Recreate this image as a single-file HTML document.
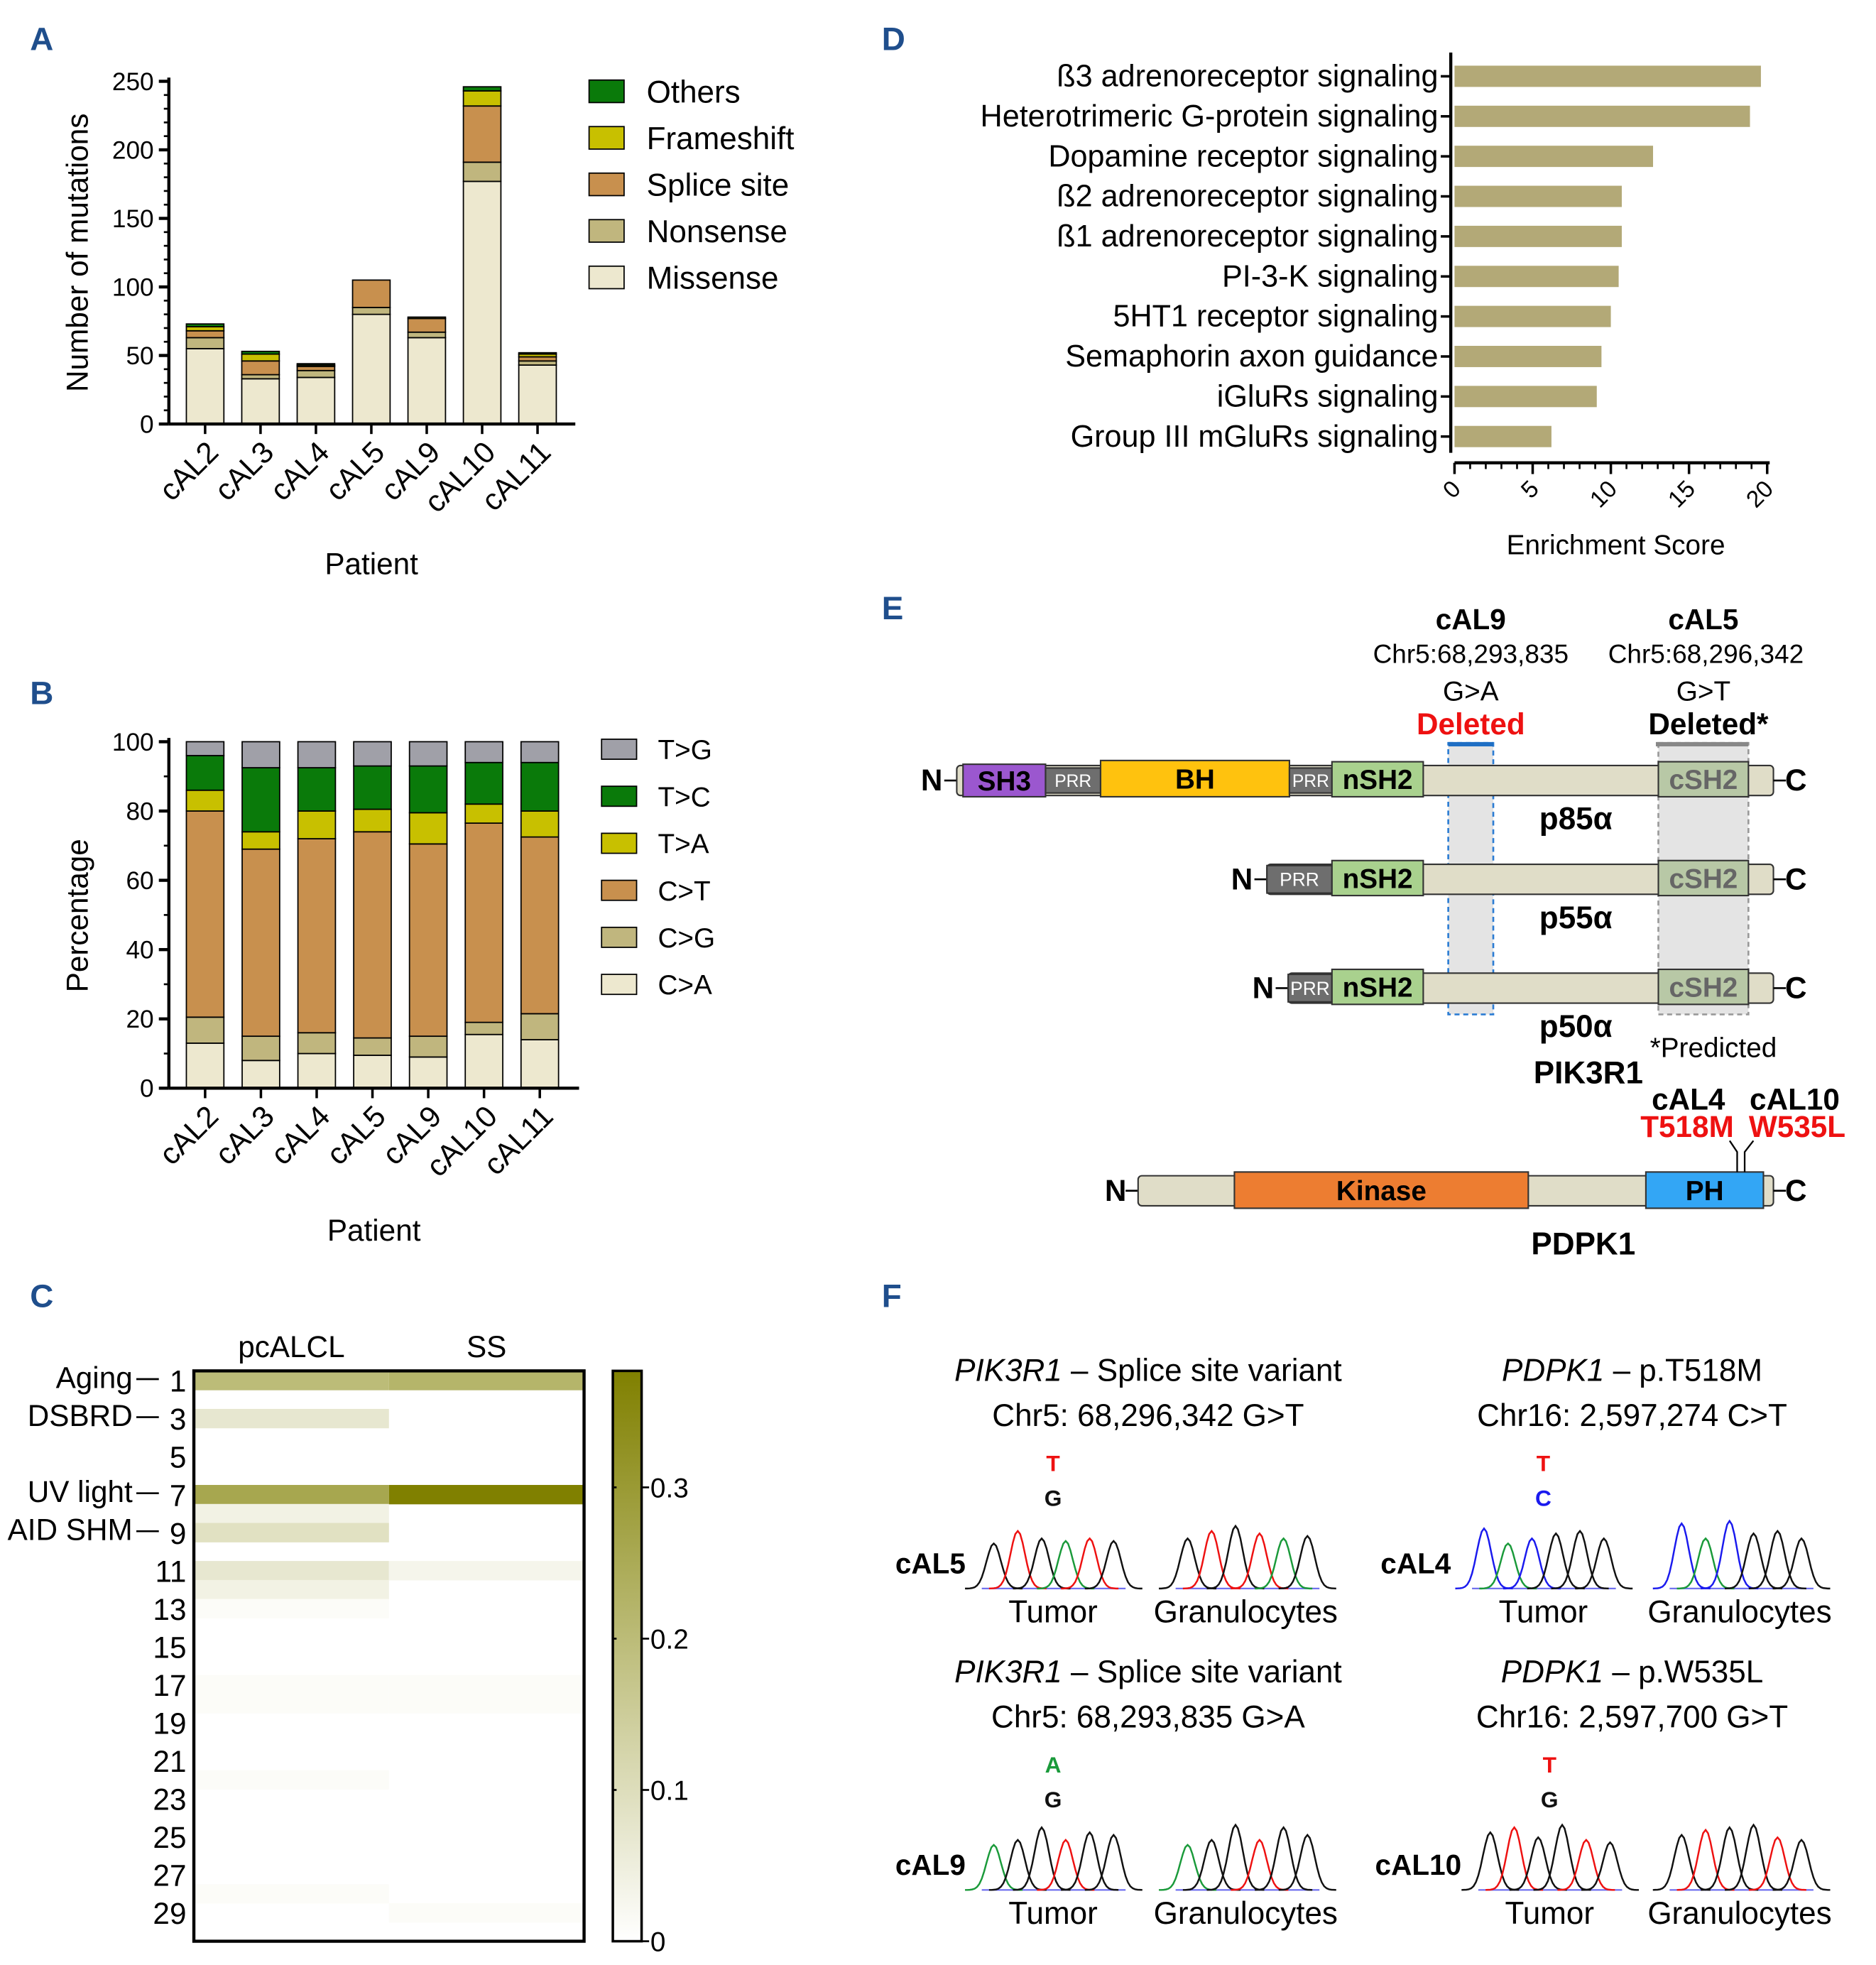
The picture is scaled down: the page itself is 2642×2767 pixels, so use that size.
<!DOCTYPE html>
<html><head><meta charset="utf-8"><style>
html,body{margin:0;padding:0;background:#fff}
svg{display:block}
text{font-family:"Liberation Sans",sans-serif}
.cal{font-family:"Liberation Sans",sans-serif}
.nar{font-family:"Liberation Sans Narrow","Liberation Sans",sans-serif}
</style></head><body>
<svg id="fig" width="2642" height="2767" viewBox="0 0 1500 1571" xmlns="http://www.w3.org/2000/svg">
<g id="gA"></g>
<g id="gB"></g>
<g id="gC"></g>
<g id="gD"></g>
<g id="gE"></g>
<g id="gF"></g>
</svg>
<script>
// ---- Panel A data
const patients = ["cAL2","cAL3","cAL4","cAL5","cAL9","cAL10","cAL11"];
const mutTypes = ["Missense","Nonsense","Splice site","Frameshift","Others"];
const missense = [55,33,34,80,63,177,43];
const nonsense = [8,3,5,5,4,14,3];
const splice = [5,10,3,20,10,41,3];
const frameshift = [3,5,1,0,1,11,2];
const others = [2,2,1,0,0,3,1];
const yTicksA = [0,50,100,150,200,250];
// ---- Panel B data
const subTypes = ["C>A","C>G","C>T","T>A","T>C","T>G"];
const pCA = [13,8,10,9.5,9,15.5,14];
const pCG = [7.5,7,6,5,6,3.5,7.5];
const pCT = [59.5,54,56,59.5,55.5,57.5,51];
const pTA = [6,5,8,6.5,9,5.5,7.5];
const pTC = [10,18.5,12.5,12.5,13.5,12,14];
const pTG = [4,7.5,7.5,7,7,6,6];
const yTicksB = [0,20,40,60,80,100];
// ---- Panel C data
const sigGroups = ["pcALCL","SS"];
const sigPc = [0.20,0,0.07,0,0,0,0.26,0.04,0.09,0,0.07,0.04,0.01,0,0,0,0.01,0.01,0,0,0,0.01,0,0,0,0,0,0.01,0,0];
const sigSS = [0.22,0,0,0,0,0,0.377,0,0,0,0.03,0,0,0,0,0,0.01,0.01,0,0,0,0,0,0,0,0,0,0,0.01,0];
const cTicks = [0,0.1,0.2,0.3];
// ---- Panel D data
const pathways = ["ß3 adrenoreceptor signaling","Heterotrimeric G-protein signaling","Dopamine receptor signaling","ß2 adrenoreceptor signaling","ß1 adrenoreceptor signaling","PI-3-K signaling","5HT1 receptor signaling","Semaphorin axon guidance","iGluRs signaling","Group III mGluRs signaling"];
const enrich = [19.6,18.9,12.7,10.7,10.7,10.5,10.0,9.4,9.1,6.2];
const xTicksD = [0,5,10,15,20];

const NS="http://www.w3.org/2000/svg";
function el(tag,attrs,parent,txt){const e=document.createElementNS(NS,tag);for(const k in attrs)e.setAttribute(k,attrs[k]);if(txt!==undefined)e.textContent=txt;parent.appendChild(e);return e;}

function letter(g,t,x,y){const e=el('text',{x:x,y:y,'font-size':26,'font-weight':'bold',fill:'#1f4e8c'},g,t);

}

// ===== Panel A
(function(){
const g=document.getElementById('gA');letter(g,'A',24,40);
const x0=135,x1=460,y0=339,yTop=65,max=250;
const ys=v=>y0-(v/max)*(y0-yTop);
const xs=i=>164+i*44.3;
const cols=['#ede8cf','#c0b67e','#c8904e','#c8c000','#0a7a0a'];
const series=[missense,nonsense,splice,frameshift,others];
patients.forEach((p,i)=>{let acc=0;series.forEach((s,k)=>{const v=s[i];if(v<=0)return;const r=el('rect',{x:xs(i)-15,y:ys(acc+v),width:30,height:ys(acc)-ys(acc+v),fill:cols[k],stroke:'#000','stroke-width':1},g);

acc+=v;});
const t=el('text',{x:0,y:0,'font-size':24,'text-anchor':'end',transform:`translate(${xs(i)+12},${y0+24}) rotate(-45)`},g,p);

});
el('line',{x1:x0,y1:yTop-3,x2:x0,y2:y0,stroke:'#000','stroke-width':2.5},g);
el('line',{x1:x0,y1:y0,x2:x1,y2:y0,stroke:'#000','stroke-width':2.5},g);
yTicksA.forEach(v=>{el('line',{x1:x0-8,y1:ys(v),x2:x0,y2:ys(v),stroke:'#000','stroke-width':2.5},g);
for(let m=1;m<5&&v<max;m++)el('line',{x1:x0-4,y1:ys(v+m*10),x2:x0,y2:ys(v+m*10),stroke:'#000','stroke-width':1.5},g);
const t=el('text',{x:x0-12,y:ys(v)+7,'font-size':20,'text-anchor':'end'},g,v);

});
patients.forEach((p,i)=>el('line',{x1:xs(i),y1:y0,x2:xs(i),y2:y0+8,stroke:'#000','stroke-width':2},g));
const yt=el('text',{x:0,y:0,'font-size':24,'text-anchor':'middle',transform:'translate(70,202) rotate(-90)'},g,'Number of mutations');


const xt=el('text',{x:297,y:459,'font-size':24,'text-anchor':'middle'},g,'Patient');


const ord=[4,3,2,1,0];
ord.forEach((k,j)=>{const y=73+j*37.2;el('rect',{x:471,y:y-9,width:28,height:18,fill:cols[k],stroke:'#000','stroke-width':1},g);
const t=el('text',{x:517,y:y+9,'font-size':25},g,mutTypes[k]);

});
})();

// ===== Panel B
(function(){
const g=document.getElementById('gB');letter(g,'B',24,563);
const x0=135,x1=463,y0=870,yTop=593;
const ys=v=>y0-(v/100)*(y0-yTop);
const xs=i=>164+i*44.6;
const cols=['#ede8cf','#c0b67e','#c8904e','#c8c000','#0a7a0a','#a0a0a8'];
const series=[pCA,pCG,pCT,pTA,pTC,pTG];
patients.forEach((p,i)=>{let acc=0;series.forEach((s,k)=>{const v=s[i];const r=el('rect',{x:xs(i)-15,y:ys(acc+v),width:30,height:ys(acc)-ys(acc+v),fill:cols[k],stroke:'#000','stroke-width':1},g);

acc+=v;});
const t=el('text',{x:0,y:0,'font-size':24,'text-anchor':'end',transform:`translate(${xs(i)+12},${y0+24}) rotate(-45)`},g,p);

});
el('line',{x1:x0,y1:yTop-3,x2:x0,y2:y0,stroke:'#000','stroke-width':2.5},g);
el('line',{x1:x0,y1:y0,x2:x1,y2:y0,stroke:'#000','stroke-width':2.5},g);
yTicksB.forEach(v=>{el('line',{x1:x0-8,y1:ys(v),x2:x0,y2:ys(v),stroke:'#000','stroke-width':2.5},g);
if(v<100)el('line',{x1:x0-4,y1:ys(v+10),x2:x0,y2:ys(v+10),stroke:'#000','stroke-width':1.5},g);
const t=el('text',{x:x0-12,y:ys(v)+7,'font-size':20,'text-anchor':'end'},g,v);

});
patients.forEach((p,i)=>el('line',{x1:xs(i),y1:y0,x2:xs(i),y2:y0+8,stroke:'#000','stroke-width':2},g));
const yt=el('text',{x:0,y:0,'font-size':24,'text-anchor':'middle',transform:'translate(70,732) rotate(-90)'},g,'Percentage');


const xt=el('text',{x:299,y:992,'font-size':24,'text-anchor':'middle'},g,'Patient');


[5,4,3,2,1,0].forEach((k,j)=>{const y=599+j*37.6;el('rect',{x:481,y:y-8,width:28,height:16,fill:cols[k],stroke:'#000','stroke-width':1},g);
const t=el('text',{x:526,y:y+8,'font-size':22},g,subTypes[k]);

});
})();

// ===== Panel C
(function(){
const g=document.getElementById('gC');letter(g,'C',24,1045);
const x0=155,x1=467,y0=1096,y1=1552,vmax=0.377;
const rh=(y1-y0)/30,cw=(x1-x0)/2;
function col(v){const t=Math.min(1,v/vmax);const r=Math.round(255+(128-255)*t),gg=Math.round(255+(128-255)*t),b=Math.round(255+(0-255)*t);return `rgb(${r},${gg},${b})`;}
[sigPc,sigSS].forEach((arr,c)=>arr.forEach((v,i)=>{if(v<=0)return;const r=el('rect',{x:x0+c*cw,y:y0+i*rh,width:cw,height:rh+0.3,fill:col(v)},g);

}));
el('rect',{x:x0,y:y0,width:x1-x0,height:y1-y0,fill:'none',stroke:'#000','stroke-width':2.5},g);
sigGroups.forEach((s,c)=>{const t=el('text',{x:x0+c*cw+cw/2,y:1085,'font-size':24,'text-anchor':'middle'},g,s);

});
const ann={1:'Aging',3:'DSBRD',7:'UV light',9:'AID SHM'};
for(let n=1;n<=29;n+=2){const y=y0+(n-0.5)*rh+9;const t=el('text',{x:149,y:y,'font-size':24,'text-anchor':'end'},g,n);


if(ann[n]){const lab=ann[n];const a=el('text',{x:106,y:y-3,'font-size':24,'text-anchor':'end'},g,lab);


el('line',{x1:109,y1:y-10,x2:127,y2:y-10,stroke:'#000','stroke-width':1.5},g);}}
const defs=el('defs',{},g);const lg=el('linearGradient',{id:'cb',x1:0,y1:1,x2:0,y2:0},defs);
el('stop',{offset:0,'stop-color':'#ffffff'},lg);el('stop',{offset:1,'stop-color':'#808000'},lg);
const cb=el('rect',{x:490,y:y0,width:23,height:y1-y0,fill:'url(#cb)',stroke:'#000','stroke-width':2},g);


cTicks.forEach(v=>{const y=y1-(v/vmax)*(y1-y0);el('line',{x1:513,y1:y,x2:519,y2:y,stroke:'#000','stroke-width':1.5},g);
el('line',{x1:490,y1:y,x2:493,y2:y,stroke:'#000','stroke-width':1.5},g);
const t=el('text',{x:520,y:y+8,'font-size':22},g,v);

});
})();

// ===== Panel D
(function(){
const g=document.getElementById('gD');letter(g,'D',705,40);
const xa=1163,xb=1413,max=20;const xs=v=>xa+(v/max)*(xb-xa);
pathways.forEach((p,i)=>{const y=61+i*32;const r=el('rect',{x:xa,y:y-8.5,width:xs(enrich[i])-xa,height:17,fill:'#b3a977'},g);


el('line',{x1:1152,y1:y,x2:1160,y2:y,stroke:'#000','stroke-width':2},g);
const t=el('text',{x:1150,y:y+8,'font-size':24.5,'text-anchor':'end'},g,p);

});
el('line',{x1:1160,y1:42,x2:1160,y2:362,stroke:'#000','stroke-width':2.5},g);
el('line',{x1:xa,y1:370,x2:xb+2,y2:370,stroke:'#000','stroke-width':2.5},g);
for(let v=0;v<=20;v++)el('line',{x1:xs(v),y1:370,x2:xs(v),y2:v%5==0?379:375,stroke:'#000','stroke-width':v%5==0?2:1.5},g);
xTicksD.forEach(v=>{const t=el('text',{x:0,y:0,'font-size':19,'text-anchor':'end',transform:`translate(${xs(v)+6},${392}) rotate(-45)`},g,v);

});
const xt=el('text',{x:1292,y:443,'font-size':22,'text-anchor':'middle'},g,'Enrichment Score');


})();

// ===== Panel E
(function(){
const g=document.getElementById('gE');letter(g,'E',705,495);
function T(t,x,y,fs,opt,name){const a=Object.assign({x:x,y:y,'font-size':fs,'text-anchor':'middle','class':'nar'},opt||{});const e=el('text',a,g,t);

return e;}
function box(x,w,y,h,fill,label,tc,fs,name){const r=el('rect',{x:x,y:y,width:w,height:h,fill:fill,stroke:'#333','stroke-width':1.2},g);


if(label)T(label,x+w/2,y+h/2+(fs||22)*0.36,fs||22,{fill:tc||'#000','font-weight':fs&&fs<18?'normal':'bold'},name+'-label');}
const d1=el('rect',{x:1158,y:594,width:36,height:217,fill:'#e4e4e4',stroke:'#2b7cd3','stroke-width':1.5,'stroke-dasharray':'4,3'},g);


const d2=el('rect',{x:1326,y:594,width:72,height:217,fill:'#e4e4e4',stroke:'#999','stroke-width':1.5,'stroke-dasharray':'4,3'},g);


el('line',{x1:1158,y1:595,x2:1194,y2:595,stroke:'#1f6fc4','stroke-width':3.5},g);
el('line',{x1:1324,y1:595,x2:1398,y2:595,stroke:'#888','stroke-width':3.5},g);
function protein(y,xs,name){el('line',{x1:xs-10,y1:y+13,x2:xs,y2:y+13,stroke:'#000','stroke-width':1.5},g);
el('rect',{x:xs,y:y+1,width:1418-xs,height:24,fill:'#e0ddc8',stroke:'#333','stroke-width':1.2,rx:3},g);
el('line',{x1:1418,y1:y+13,x2:1428,y2:y+13,stroke:'#000','stroke-width':1.5},g);
T('N',xs-20,y+21,24,{'font-weight':'bold'},'n-terminus');T('C',1436,y+21,24,{'font-weight':'bold'},'c-terminus');}
protein(611,765,'p85');
box(770,66,611,26,'#9b57cf','SH3','#000',22,'sh3-domain');
box(836,44,614,20,'#6e6e6e','PRR','#fff',14,'prr-domain');
box(880,151,608,29,'#ffc20e','BH','#000',22,'bh-domain');
box(1031,34,614,20,'#6e6e6e','PRR','#fff',14,'prr-domain');
box(1065,73,609,28,'#a9d18e','nSH2','#000',22,'nsh2-domain');
box(1326,72,609,28,'#b8c8a6','cSH2','#666',22,'csh2-domain');
protein(690,1013,'p55');
box(1013,52,692,22,'#6e6e6e','PRR','#fff',15,'prr-domain');
box(1065,73,688,28,'#a9d18e','nSH2','#000',22,'nsh2-domain');
box(1326,72,688,28,'#b8c8a6','cSH2','#666',22,'csh2-domain');
protein(777,1030,'p50');
box(1030,35,779,22,'#6e6e6e','PRR','#fff',15,'prr-domain');
box(1065,73,775,28,'#a9d18e','nSH2','#000',22,'nsh2-domain');
box(1326,72,775,28,'#b8c8a6','cSH2','#666',22,'csh2-domain');
T('p85α',1260,663,25,{'font-weight':'bold'},'isoform-label');
T('p55α',1260,742,25,{'font-weight':'bold'},'isoform-label');
T('p50α',1260,829,25,{'font-weight':'bold'},'isoform-label');
T('PIK3R1',1270,866,25,{'font-weight':'bold'},'gene-label');
T('*Predicted',1370,845,22,{},'footnote');
T('cAL9',1176,503,23,{'font-weight':'bold'},'sample-label');
T('Chr5:68,293,835',1176,530,21,{},'position-label');
T('G>A',1176,560,22,{},'variant-label');
T('Deleted',1176,587,24,{'font-weight':'bold',fill:'#ee1111'},'deleted-label');
T('cAL5',1362,503,23,{'font-weight':'bold'},'sample-label');
T('Chr5:68,296,342',1364,530,21,{},'position-label');
T('G>T',1362,560,22,{},'variant-label');
T('Deleted*',1366,587,24,{'font-weight':'bold'},'deleted-label');
el('line',{x1:900,y1:952,x2:910,y2:952,stroke:'#000','stroke-width':1.5},g);
el('rect',{x:910,y:940,width:508,height:24,fill:'#e0ddc8',stroke:'#333','stroke-width':1.2,rx:3},g);
el('line',{x1:1418,y1:952,x2:1428,y2:952,stroke:'#000','stroke-width':1.5},g);
T('N',892,960,24,{'font-weight':'bold'},'n-terminus');T('C',1436,960,24,{'font-weight':'bold'},'c-terminus');
box(987,235,937,29,'#ed7d31','Kinase','#000',22,'kinase-domain');
box(1316,94,937,29,'#33a6f5','PH','#000',22,'ph-domain');
el('path',{d:'M1389 937 V921 L1383 912 M1395 937 V921 L1402 912',stroke:'#000','stroke-width':1.3,fill:'none'},g);
T('cAL4',1350,887,24,{'font-weight':'bold'},'sample-label');
T('T518M',1349,909,24,{'font-weight':'bold',fill:'#ee1111'},'mutation-label');
T('cAL10',1435,887,24,{'font-weight':'bold'},'sample-label');
T('W535L',1437,909,24,{'font-weight':'bold',fill:'#ee1111'},'mutation-label');
T('PDPK1',1266,1003,25,{'font-weight':'bold'},'gene-label');
})();

// ===== Panel F
(function(){
const g=document.getElementById('gF');letter(g,'F',705,1045);
function T(t,x,y,fs,opt,name){const a=Object.assign({x:x,y:y,'font-size':fs,'text-anchor':'middle','class':'cal'},opt||{});const e=el('text',a,g,t);

return e;}
const C={A:'#1a9a3a',C:'#1a1aee',G:'#111',T:'#ee1111'};
function chrom(x0,w,yb,peaks){const n=peaks.length,sp=w/n;
el('line',{x1:x0,y1:yb,x2:x0+w,y2:yb,stroke:'#6a6aee','stroke-width':1.2},g);
peaks.forEach((p,i)=>{const cx=x0+sp*(i+0.5),h=p[1];let d='';for(let k=-12;k<=12;k++){const xx=cx+k*sp/10;const yy=yb-h*Math.exp(-(k*k)/18);d+=(k==-12?'M':'L')+xx.toFixed(1)+' '+yy.toFixed(1);}
const pth=el('path',{d:d,stroke:C[p[0]],'stroke-width':1.4,fill:'none'},g);

});}
const blocks=[
{x:918,y:1104,gene:'PIK3R1',rest:' – Splice site variant',pos:'Chr5: 68,296,342 G>T',top:'T',topc:'#ee1111',bot:'G',sample:'cAL5',sx:744,tx:785,gx:940,
 tp:[['G',36],['T',46],['G',40],['A',38],['T',40],['G',38]],gp:[['G',40],['T',46],['G',50],['T',44],['A',40],['G',42]]},
{x:1305,y:1104,gene:'PDPK1',rest:' – p.T518M',pos:'Chr16: 2,597,274 C>T',top:'T',topc:'#ee1111',bot:'C',botc:'#1a1aee',sample:'cAL4',sx:1132,tx:1177,gx:1335,
 tp:[['C',48],['A',36],['C',40],['G',44],['G',46],['G',40]],gp:[['C',52],['A',40],['C',54],['G',44],['G',46],['G',40]]},
{x:918,y:1345,gene:'PIK3R1',rest:' – Splice site variant',pos:'Chr5: 68,293,835 G>A',top:'A',topc:'#1a9a3a',bot:'G',sample:'cAL9',sx:744,tx:785,gx:940,
 tp:[['A',36],['G',40],['G',50],['T',40],['G',46],['G',44]],gp:[['A',36],['G',40],['G',52],['T',40],['G',50],['G',44]]},
{x:1305,y:1345,gene:'PDPK1',rest:' – p.W535L',pos:'Chr16: 2,597,700 G>T',top:'T',topc:'#ee1111',bot:'G',sample:'cAL10',sx:1134,tx:1182,gx:1335,
 tp:[['G',46],['T',50],['G',42],['G',52],['T',40],['G',38]],gp:[['G',44],['T',48],['G',50],['G',52],['T',42],['G',40]]}
];
blocks.forEach(b=>{const t=el('text',{x:b.x,y:b.y,'font-size':25,'text-anchor':'middle','class':'cal'},g);


el('tspan',{'font-style':'italic'},t,b.gene);el('tspan',{},t,b.rest);
T(b.pos,b.x,b.y+36,25,{},'variant-position');
const by=b.y+70;
T(b.top,b.tx+57,by+2,18,{'font-weight':'bold',fill:b.topc,'font-family':'Liberation Mono'},'tumor-base-call');
T(b.bot,b.tx+57,by+30,18,{'font-weight':'bold',fill:b.botc||'#111','font-family':'Liberation Mono'},'reference-base');
T(b.sample,b.sx,by+84,23,{'font-weight':'bold'},'sample-label');
chrom(b.tx,115,by+96,b.tp);chrom(b.gx,115,by+96,b.gp);
T('Tumor',b.tx+57,by+123,25,{},'tumor-label');T('Granulocytes',b.gx+56,by+123,25,{},'granulocytes-label');});
})();
</script>
</body></html>
